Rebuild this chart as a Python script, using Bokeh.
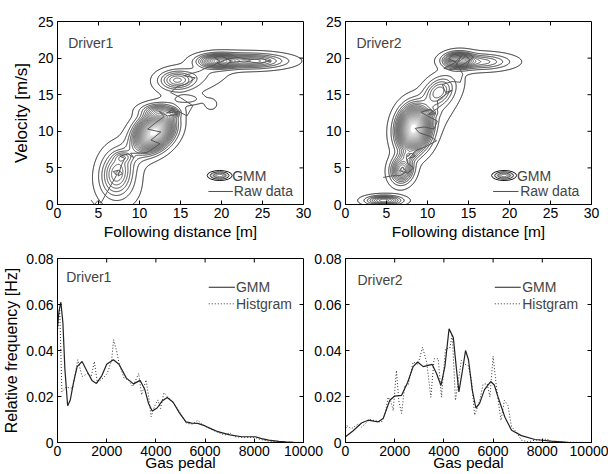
import numpy as np
from bokeh.plotting import figure
from bokeh.layouts import row, column
from bokeh.models import Label, Range1d, FixedTicker
from bokeh.embed import file_html
from bokeh.resources import INLINE

FONT = "Liberation Sans"

# ---------------- data ----------------
# GMM components, Driver1: following distance [m], velocity [m/s]
d1_mu_x = [11.8, 12.3, 14.1, 14.5, 15.8, 18.7, 19.6, 23.5, 7.2, 8.0, 17.0, 10.0, 8.0]
d1_mu_y = [9.9, 12.8, 12.5, 17.0, 14.4, 13.7, 19.6, 19.6, 4.3, 6.5, 17.5, 8.0, 2.5]
d1_sd_x = [1.3, 1.3, 0.4, 1.3, 1.2, 0.45, 1.4, 2.6, 1.2, 0.7, 2.5, 2.0, 1.5]
d1_sd_y = [1.4, 0.6, 0.35, 0.8, 0.45, 0.45, 0.55, 0.6, 1.9, 0.45, 1.5, 2.5, 2.0]
d1_rho = [0.3, 0.0, 0.0, 0.0, 0.0, 0.0, 0.0, 0.0, 0.1, 0.0, 0.5, 0.7, 0.0]
d1_w = [0.2, 0.015, 0.0027, 0.0228, 0.0041, 0.001, 0.0316, 0.042, 0.055, 0.0032, 0.019, 0.022, 0.01]

# GMM components, Driver2
d2_mu_x = [8.3, 10.1, 11.3, 13.8, 16.5, 7.7, 6.9, 4.7, 11.0]
d2_mu_y = [10.4, 12.5, 15.4, 19.7, 19.5, 6.7, 4.8, 0.55, 13.0]
d2_sd_x = [1.1, 0.6, 1.1, 1.0, 2.2, 0.6, 0.8, 1.3, 2.2]
d2_sd_y = [1.7, 0.3, 1.2, 0.6, 0.65, 0.4, 1.1, 0.4, 3.5]
d2_rho = [0.1, 0.0, 0.3, 0.0, 0.0, 0.0, 0.1, 0.0, 0.75]
d2_w = [0.22, 0.0019, 0.026, 0.032, 0.027, 0.0026, 0.035, 0.016, 0.0237]

# raw trajectories
d1_raw_x = [4.1, 4.5, 4.9, 5.3, 6.0, 6.7, 7.2, 6.8, 7.5, 7.9, 7.4, 7.8, 8.2, 7.6, 8.6, 9.3, 8.9, 9.8,
            10.9, 11.6, 12.5, 11.4, 12.6, 11.0, 12.0, 13.0, 12.4, 13.4, 14.6, 14.0, 13.3, 14.8, 15.8,
            16.5, 15.0, 13.8, 14.6, 15.8, 16.8, 15.4, 17.3, 18.2, 19.0, 19.8, 19.1, 20.0, 21.2, 20.4,
            19.5, 20.8, 22.0, 23.5, 25.0, 26.0, 24.5, 22.8, 21.0]
d1_raw_y = [0.6, 0.0, 0.5, 0.2, 1.6, 3.0, 4.0, 4.5, 4.7, 4.2, 3.9, 5.4, 6.3, 6.6, 6.9, 6.4, 7.0, 7.0,
            7.1, 7.6, 8.3, 8.8, 9.9, 10.3, 11.2, 12.0, 12.7, 12.1, 12.3, 12.9, 12.5, 12.7, 12.1,
            13.5, 14.6, 15.3, 16.1, 16.5, 17.3, 17.6, 18.2, 18.7, 19.0, 19.6, 20.1, 20.3, 19.6, 18.9,
            19.3, 19.9, 20.1, 19.8, 19.9, 19.6, 19.3, 19.6, 19.4]
d2_raw_x = [4.6, 5.6, 6.7, 7.4, 7.0, 6.6, 7.6, 8.3, 7.6, 7.4, 8.0, 8.5, 7.8, 8.6, 9.6, 11.1, 10.3, 9.0,
            8.5, 9.6, 10.8, 11.2, 10.0, 9.2, 10.3, 11.0, 10.1, 11.3, 11.2, 12.3, 13.0, 12.2, 11.8, 13.0,
            14.0, 14.3, 13.5, 12.6, 13.2, 14.1, 13.4, 14.7, 15.2, 14.4, 13.1, 12.0, 13.0, 14.6, 15.6,
            15.0, 14.0, 12.5]
d2_raw_y = [3.7, 3.9, 3.95, 4.5, 5.1, 4.6, 4.3, 5.0, 5.6, 6.5, 7.0, 6.6, 6.3, 7.4, 7.8, 8.7, 9.3, 9.8,
            10.4, 10.6, 10.3, 11.4, 12.1, 12.6, 13.0, 12.4, 12.3, 13.2, 14.2, 15.1, 15.6, 15.3, 16.4, 16.8,
            16.7, 17.8, 19.4, 19.9, 20.6, 20.2, 18.9, 18.8, 19.8, 20.5, 19.2, 18.6, 18.4, 19.3, 20.1,
            20.7, 19.6, 19.6]

# gas pedal distributions
d1_gmm_x = [0, 60, 137, 220, 300, 412, 520, 650, 800, 1000, 1200, 1400, 1580, 1800, 2000, 2270, 2500,
            2800, 3090, 3360, 3550, 3700, 3850, 4050, 4250, 4460, 4700, 4950, 5220, 5450, 5700, 6000,
            6300, 6520, 7000, 7490, 8040, 8300, 8580, 9000, 9270, 9600, 10000]
d1_gmm_y = [0.050, 0.057, 0.061, 0.052, 0.032, 0.016, 0.0185, 0.026, 0.033, 0.0352, 0.031, 0.027,
            0.0257, 0.029, 0.034, 0.036, 0.034, 0.028, 0.0255, 0.027, 0.023, 0.017, 0.0137, 0.015,
            0.018, 0.0196, 0.0175, 0.013, 0.009, 0.0084, 0.0083, 0.0072, 0.0057, 0.0047, 0.0033,
            0.0025, 0.0025, 0.0017, 0.001, 0.0005, 0.0003, 0.0001, 0.0]
d1_hist_x = [0, 90, 178, 343, 618, 824, 1000, 1236, 1374, 1497, 1620, 1855, 2020, 2200, 2280, 2400,
             2500, 2706, 2885, 3063, 3300, 3420, 3600, 3695, 3805, 3940, 4080, 4190, 4327, 4460, 4670,
             4876, 5082, 5247, 5494, 5700, 5907, 6181, 6456, 6800, 7005, 7212, 7555, 8036, 8242, 8585,
             9135, 10000]
d1_hist_y = [0.048, 0.058, 0.022, 0.024, 0.0236, 0.036, 0.0287, 0.030, 0.0287, 0.0352, 0.026, 0.028,
             0.030, 0.0356, 0.0447, 0.040, 0.0345, 0.028, 0.0272, 0.0243, 0.030, 0.0207, 0.0272, 0.0207,
             0.0112, 0.0156, 0.0185, 0.0148, 0.0217, 0.020, 0.0177, 0.0148, 0.0112, 0.0083, 0.008,
             0.0097, 0.0076, 0.0061, 0.0047, 0.0032, 0.0042, 0.0025, 0.0022, 0.0022, 0.0013, 0.0006,
             0.0001, 0.0]
d2_gmm_x = [0, 300, 650, 920, 1150, 1330, 1530, 1800, 2000, 2280, 2520, 2750, 2930, 3160, 3360, 3520,
            3700, 3880, 4040, 4210, 4380, 4510, 4610, 4750, 4880, 5000, 5150, 5300, 5450, 5650, 5900,
            6050, 6200, 6480, 6750, 7150, 7700, 8370, 9000, 10000]
d2_gmm_y = [0.0025, 0.005, 0.0085, 0.0097, 0.0093, 0.009, 0.0104, 0.0184, 0.0202, 0.0205, 0.026,
            0.033, 0.035, 0.033, 0.0335, 0.034, 0.030, 0.0248, 0.033, 0.0494, 0.0458, 0.032, 0.022,
            0.031, 0.040, 0.036, 0.023, 0.015, 0.017, 0.023, 0.0265, 0.025, 0.0198, 0.011, 0.0053,
            0.003, 0.0013, 0.0006, 0.0001, 0.0]
d2_hist_x = [0, 40, 244, 516, 650, 990, 1190, 1460, 1600, 1735, 1840, 1940, 2070, 2170, 2280, 2410,
             2550, 2750, 2950, 3130, 3300, 3470, 3600, 3770, 3900, 4065, 4240, 4340, 4470, 4710, 4850,
             4985, 5120, 5250, 5460, 5590, 5760, 5870, 6000, 6150, 6320, 6460, 6600, 6750, 6950, 7150,
             7420, 7700, 8100, 8200, 8300, 8650, 10000]
d2_hist_y = [0.005, 0.0074, 0.006, 0.0081, 0.0067, 0.010, 0.0095, 0.0088, 0.012, 0.0197, 0.018, 0.0139,
             0.0313, 0.018, 0.0126, 0.0248, 0.025, 0.035, 0.034, 0.0414, 0.035, 0.0197, 0.0364, 0.0364,
             0.0197, 0.0407, 0.041, 0.047, 0.0183, 0.0357, 0.034, 0.0335, 0.027, 0.0119, 0.0183, 0.0253,
             0.0256, 0.0198, 0.0375, 0.0227, 0.0097, 0.0183, 0.0162, 0.0068, 0.0046, 0.001, 0.0003,
             0.001, 0.0013, 0.0017, 0.0003, 0.0002, 0.0]

top_xticks = [0, 5, 10, 15, 20, 25, 30]
top_yticks = [0, 5, 10, 15, 20, 25]
bot_xticks = [0, 2000, 4000, 6000, 8000, 10000]
bot_yticks = [0, 0.02, 0.04, 0.06, 0.08]
bot_ytick_labels = ["0", "0.02", "0.04", "0.06", "0.08"]

# ---------------- styling ----------------
FW = 246
TICK_FS = "14px"
DOT = "1 2"
TICK_PX = 4


def style(p, xticks, yticks, xr, yr, fh, ylabels=None):
    p.grid.visible = False
    p.outline_line_color = "black"
    p.outline_line_width = 1
    p.xaxis.ticker = FixedTicker(ticks=xticks)
    p.yaxis.ticker = FixedTicker(ticks=yticks)
    if ylabels is not None:
        p.yaxis.major_label_overrides = {t: l for t, l in zip(yticks, ylabels)}
    for ax in p.xaxis + p.yaxis:
        ax.major_tick_in = TICK_PX
        ax.major_tick_out = 0
        ax.minor_tick_line_color = None
        ax.axis_line_color = "black"
        ax.major_label_text_font = FONT
        ax.major_label_text_font_size = TICK_FS
        ax.major_label_text_color = "black"
        ax.axis_label_text_font = FONT
        ax.axis_label_text_font_style = "normal"
        ax.axis_label_text_color = "black"
    p.xaxis.major_label_standoff = 3
    p.yaxis.major_label_standoff = 4
    # box ticks on the top and right edges (MATLAB "box on")
    ly = TICK_PX * (yr[1] - yr[0]) / fh
    lx = TICK_PX * (xr[1] - xr[0]) / FW
    inner_x = [t for t in xticks if xr[0] < t < xr[1]]
    inner_y = [t for t in yticks if yr[0] < t < yr[1]]
    p.segment(x0=inner_x, y0=[yr[1]] * len(inner_x), x1=inner_x, y1=[yr[1] - ly] * len(inner_x),
              line_color="black", line_width=1)
    p.segment(x0=[xr[1]] * len(inner_y), y0=inner_y, x1=[xr[1] - lx] * len(inner_y), y1=inner_y,
              line_color="black", line_width=1)


def make_fig(xr, yr, fh, bl, br, bt, bb):
    p = figure(frame_width=FW, frame_height=fh, x_range=Range1d(*xr), y_range=Range1d(*yr),
               output_backend="svg", toolbar_location=None,
               min_border_left=bl, min_border_right=br, min_border_top=bt, min_border_bottom=bb)
    return p


def density(mx, my, sx, sy, rho, w, X, Y):
    Z = np.zeros_like(X)
    for a, b, c, d, r, ww in zip(mx, my, sx, sy, rho, w):
        dx = (X - a) / c
        dy = (Y - b) / d
        q = (dx * dx - 2 * r * dx * dy + dy * dy) / (1 - r * r)
        Z += ww / (2 * np.pi * c * d * np.sqrt(1 - r * r)) * np.exp(-q / 2)
    return Z


gx = np.linspace(0, 30, 601)
gy = np.linspace(0, 25, 501)
GX, GY = np.meshgrid(gx, gy)
NLEV = 30


def contour_panel(p, comps, rawx, rawy):
    Z = density(*comps, GX, GY)
    zmax = Z.max()
    levels = list(zmax * np.linspace(0.012, 0.93, NLEV))
    t = np.linspace(0, 1, NLEV)
    greys = (205 * t ** 0.7).astype(int)
    colors = ["#%02x%02x%02x" % (g, g, g) for g in greys]
    p.contour(gx, gy, Z, levels, line_color=colors, line_width=0.9)
    p.line(rawx, rawy, line_color="#555555", line_width=1)


def top_legend(p, cx, tx, lx0, lx1, rx):
    # GMM icon: concentric ellipses
    p.ellipse(x=[cx] * 4, y=[3.96] * 4, width=[3.05, 2.3, 1.55, 0.7], height=[1.37, 1.02, 0.68, 0.32],
              fill_color=["white", "#d8d8d8", "#a8a8a8", "white"],
              line_color=["#111111", "#333333", "#555555", "#888888"], line_width=1)
    p.add_layout(Label(x=tx, y=3.96, text="GMM", text_font=FONT, text_font_size="14px",
                       text_baseline="middle", text_align="left"))
    p.line([lx0, lx1], [1.78, 1.78], line_color="#505050", line_width=1)
    p.add_layout(Label(x=rx, y=1.78, text="Raw data", text_font=FONT, text_font_size="14px",
                       text_baseline="middle", text_align="left"))


def bot_legend(p, lx0, lx1, tx):
    p.line([lx0, lx1], [0.0675, 0.0675], line_color="#222222", line_width=1.2)
    p.add_layout(Label(x=tx, y=0.0675, text="GMM", text_font=FONT, text_font_size="14px",
                       text_baseline="middle", text_align="left"))
    p.line([lx0, lx1], [0.0603, 0.0603], line_color="#333333", line_width=1, line_dash=DOT)
    p.add_layout(Label(x=tx, y=0.0603, text="Histgram", text_font=FONT, text_font_size="14px",
                       text_baseline="middle", text_align="left"))


TOP_XR, TOP_YR = (0, 30), (0, 25)
BOT_XR, BOT_YR = (0, 10000), (0, 0.08)

# ---------- top left ----------
p1 = make_fig(TOP_XR, TOP_YR, 183, 57, 25, 21, 40)
style(p1, top_xticks, top_yticks, TOP_XR, TOP_YR, 183)
p1.xaxis.axis_label = "Following distance [m]"
p1.yaxis.axis_label = "Velocity [m/s]"
p1.xaxis.axis_label_text_font_size = "15.5px"
p1.yaxis.axis_label_text_font_size = "17px"
p1.xaxis.axis_label_standoff = 2
p1.yaxis.axis_label_standoff = 4
contour_panel(p1, (d1_mu_x, d1_mu_y, d1_sd_x, d1_sd_y, d1_rho, d1_w), d1_raw_x, d1_raw_y)
top_legend(p1, 19.78, 21.3, 18.4, 21.4, 21.5)
p1.add_layout(Label(x=1.3, y=22.0, text="Driver1", text_font=FONT, text_font_size="14px",
                    text_baseline="middle"))

# ---------- top right ----------
p2 = make_fig(TOP_XR, TOP_YR, 183, 40, 17, 21, 40)
p2.margin = (0, 0, 0, -23)
p2.border_fill_alpha = 0
style(p2, top_xticks, top_yticks, TOP_XR, TOP_YR, 183)
p2.xaxis.axis_label = "Following distance [m]"
p2.xaxis.axis_label_text_font_size = "15.5px"
p2.xaxis.axis_label_standoff = 2
contour_panel(p2, (d2_mu_x, d2_mu_y, d2_sd_x, d2_sd_y, d2_rho, d2_w), d2_raw_x, d2_raw_y)
top_legend(p2, 19.34, 20.9, 18.0, 21.1, 21.3)
p2.add_layout(Label(x=1.34, y=22.0, text="Driver2", text_font=FONT, text_font_size="14px",
                    text_baseline="middle"))

# ---------- bottom left ----------
p3 = make_fig(BOT_XR, BOT_YR, 184, 57, 25, 14, 32)
style(p3, bot_xticks, bot_yticks, BOT_XR, BOT_YR, 184, bot_ytick_labels)
p3.xaxis.axis_label = "Gas pedal"
p3.yaxis.axis_label = "Relative frequency [Hz]"
p3.xaxis.axis_label_text_font_size = "15.5px"
p3.yaxis.axis_label_text_font_size = "16px"
p3.xaxis.axis_label_standoff = -5
p3.yaxis.axis_label_standoff = 3
p3.line(d1_hist_x, d1_hist_y, line_color="#333333", line_width=1, line_dash=DOT)
p3.line(d1_gmm_x, d1_gmm_y, line_color="#222222", line_width=1.2)
bot_legend(p3, 6148, 7213, 7254)
p3.add_layout(Label(x=356, y=0.0719, text="Driver1", text_font=FONT, text_font_size="14px",
                    text_baseline="middle"))

# ---------- bottom right ----------
p4 = make_fig(BOT_XR, BOT_YR, 184, 40, 17, 14, 32)
p4.margin = (0, 0, 0, -23)
p4.border_fill_alpha = 0
style(p4, bot_xticks, bot_yticks, BOT_XR, BOT_YR, 184, bot_ytick_labels)
p4.xaxis.axis_label = "Gas pedal"
p4.xaxis.axis_label_text_font_size = "15.5px"
p4.xaxis.axis_label_standoff = -5
p4.line(d2_hist_x, d2_hist_y, line_color="#333333", line_width=1, line_dash=DOT)
p4.line(d2_gmm_x, d2_gmm_y, line_color="#222222", line_width=1.2)
bot_legend(p4, 6069, 7126, 7183)
p4.add_layout(Label(x=488, y=0.0707, text="Driver2", text_font=FONT, text_font_size="14px",
                    text_baseline="middle"))

layout = column(row(p1, p2, spacing=0), row(p3, p4, spacing=0), spacing=0)
open("out.html", "w").write(file_html(layout, INLINE))
